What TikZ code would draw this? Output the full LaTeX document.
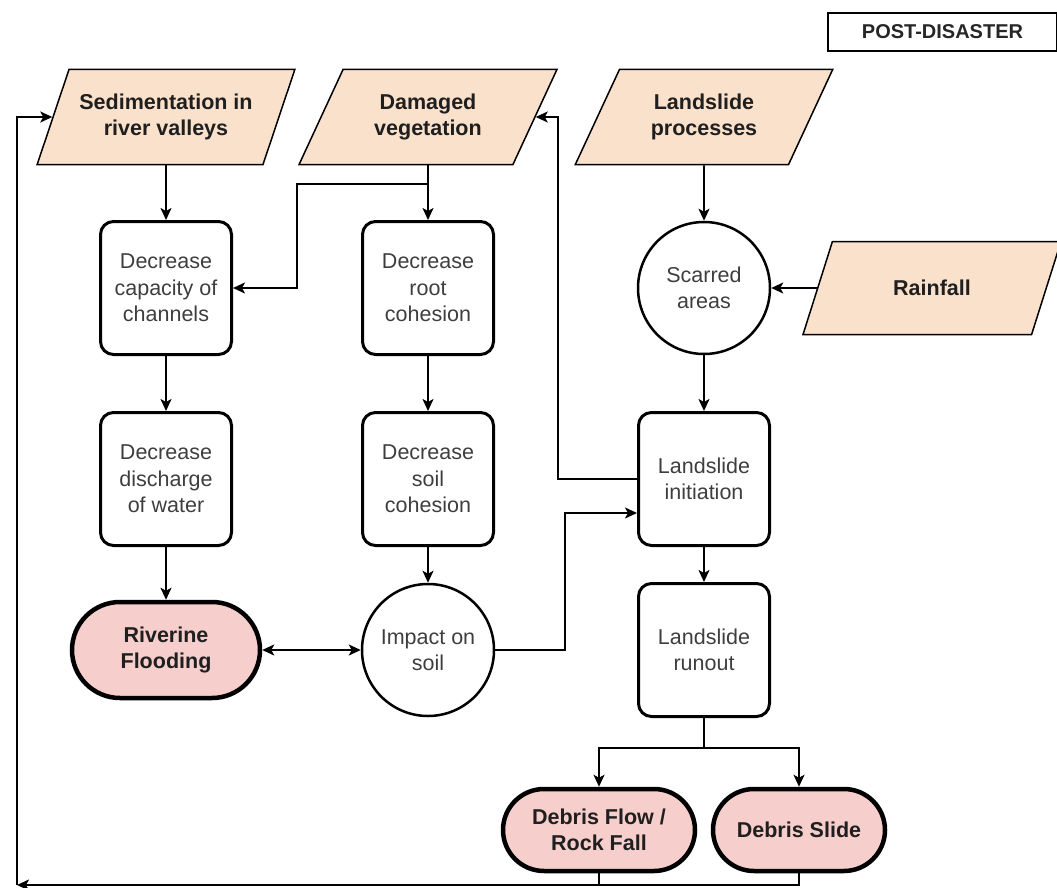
\documentclass[tikz,border=0pt]{standalone}
\usepackage{fontspec}
\setmainfont{Liberation Sans}
\usepackage{tikz}
\usetikzlibrary{shapes.geometric, arrows.meta}

\definecolor{inputfill}{RGB}{250,225,203}
\definecolor{resultfill}{RGB}{246,206,204}
\definecolor{softtext}{RGB}{62,62,62}

\begin{document}
\begin{tikzpicture}[x=1pt, y=-1pt, line width=1.8pt, node distance=171pt,
    font=\fontsize{21.5}{26.5}\selectfont,
    >={Stealth[length=12pt, width=11pt, inset=3pt]},
    input/.style={draw, trapezium, trapezium left angle=61, trapezium right angle=119,
        trapezium stretches=true, minimum width=258pt, minimum height=95pt,
        fill=inputfill, line width=1.5pt, align=center, text=black!88,
        font=\fontsize{21.5}{26.5}\selectfont\bfseries},
    proc/.style={draw, rectangle, rounded corners=13pt, minimum width=131pt,
        minimum height=133pt, line width=3pt, align=center, text=softtext},
    base/.style={draw, circle, minimum size=132pt, inner sep=0pt, line width=2.5pt,
        align=center, text=softtext},
    final/.style={draw, rectangle, rounded corners=41pt, minimum height=82pt,
        fill=resultfill, line width=4.5pt, align=center, text=black!88,
        font=\fontsize{21.5}{26.5}\selectfont\bfseries}]

    \useasboundingbox (0,0) rectangle (1057,888);

    \node[input] (sed) at (166,117)
    {Sedimentation in\\river valleys};
    
    \node[input, right of=sed, node distance=262pt] (veg)
    {Damaged\\vegetation};
    
    \node[input, right of=veg, node distance=276pt] (lsp)
    {Landslide\\processes};
    
    \node[proc, below of=sed] (cap)
    {Decrease\\capacity of\\channels};
    
    \node[proc, below of=veg] (root)
    {Decrease\\root\\cohesion};
    
    \node[base, below of=lsp] (scar)
    {Scarred\\areas};
    
    \node[input, right of=scar, node distance=228pt, minimum height=93pt] (rain)
    {Rainfall};

    % ---------------------------------------------------------

    \node[proc, below of=cap, node distance=191pt] (dis)
    {Decrease\\discharge\\of water};
    
    \node[proc, below of=root, node distance=191pt] (soil)
    {Decrease\\soil\\cohesion};
    
    \node[proc, below of=scar, node distance=191pt] (init)
    {Landslide\\initiation};
    
    \node[final, below of=dis, minimum width=188pt, minimum height=96pt,
        rounded corners=48pt] (riv)
    {Riverine\\Flooding};
    
    \node[base, below of=soil] (imp)
    {Impact on\\soil};
    
    \node[proc, below of=init] (run)
    {Landslide\\runout};
    
    \node[final, minimum width=192pt] (flow) at (599,830)
    {Debris Flow /\\Rock Fall};
    
    \node[final, right of=flow, node distance=200pt, minimum width=172pt] (slide)
    {Debris Slide};
    
    \node[draw, line width=1.2pt, minimum width=229pt, minimum height=38pt,
        text=black!85, font=\fontsize{20}{24}\selectfont\bfseries] (post) at (942.5,32)
    {POST-DISASTER};

    % ---------------------------------------------------------

    \coordinate (vbr) at (297,184);
    \coordinate (ijog) at (565,513);
    \coordinate (vup) at (558,117);
    \coordinate (split) at (704,748);
    \coordinate (loop) at (17,885);

    \draw[->] (sed) -- (cap);
    \draw[->] (veg) -- (root);
    \draw[->] (veg.south) |- (vbr) |- (cap.east);
    \draw[->] (cap) -- (dis);
    \draw[->] (dis) -- (riv);
    \draw[->] (root) -- (soil);
    \draw[->] (soil) -- (imp);
    \draw[<->] (riv) -- (imp);
    \draw[->] (imp.east) -| (ijog) -- (ijog -| init.west);
    \draw[->] (init.west) -| (vup) -- (veg.east);

    \draw[->] (lsp) -- (scar);
    \draw[->] (rain.west) -- (scar.east);
    \draw[->] (scar) -- (init);
    \draw[->] (init) -- (run);
    \draw (run.south) -- (split);
    \draw[->] (split) -| (flow.north);
    \draw[->] (split) -| (slide.north);

    \draw[->] (flow.south) |- (loop);
    \draw (slide.south) |- (flow.south |- loop);
    \draw[->] (loop) |- (sed.west);
\end{tikzpicture}
\end{document}
